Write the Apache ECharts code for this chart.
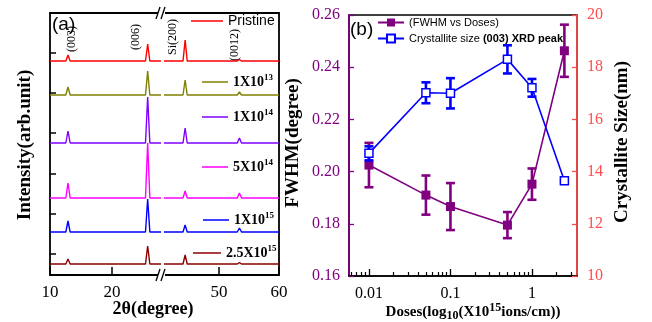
<!DOCTYPE html>
<html>
<head>
<meta charset="utf-8">
<script src="https://cdn.jsdelivr.net/npm/echarts@6/dist/echarts.min.js"></script>
<style>
html, body { margin: 0; padding: 0; background: #fff; }
#chart { width: 652px; height: 322px; }
</style>
</head>
<body>
<div id="chart"></div>
<script>
// ---- panel (a): XRD patterns, stacked ----
var xrdNames = ['Pristine', '1X10^13', '1X10^14', '5X10^14', '1X10^15', '2.5X10^15'];
var xrdColors = ['#ff0000', '#808000', '#8000ff', '#ff00ff', '#0000ff', '#8b0000'];
var xrdBaselines = [214, 180, 132, 77, 43, 11];
var peakPos = [12.9, 25.75, 44.35, 53.4];
var peakLabels = ['(003)', '(006)', 'Si(200)', '(0012)'];
// heights of (003), (006), Si(200), (0012) for each pattern
var peakHeights = [
	[6, 17, 21, 1.5],
	[8, 24, 15, 3],
	[12, 46, 15, 5],
	[15, 55, 7, 5],
	[11, 33, 7, 4],
	[5, 18, 9, 1.5]
];
var xrdTickVals = [21, 61, 101, 142, 182, 222];
var twoThetaLeft = [10, 27.9];
var twoThetaRight = [40.83, 60];
var twoThetaLabelsLeft = [10, 20];
var twoThetaLabelsRight = [50, 60];

// ---- panel (b): FWHM and crystallite size vs dose ----
var doses = [0.01, 0.05, 0.1, 0.5, 1, 2.5];
var fwhm = [0.2025, 0.191, 0.1866, 0.1795, 0.1952, 0.2463];
var fwhmErr = [0.0085, 0.0075, 0.009, 0.005, 0.006, 0.01];
var crystSize = [14.70, 17.02, 17.00, 18.30, 17.21, 13.65];
var crystErr = [0.27, 0.40, 0.58, 0.54, 0.34, 0.05];
var doseMajor = [0.01, 0.1, 1];
var doseMinor = [0.006, 0.007, 0.008, 0.009, 0.02, 0.03, 0.04, 0.05, 0.06, 0.07, 0.08, 0.09,
	0.2, 0.3, 0.4, 0.5, 0.6, 0.7, 0.8, 0.9, 2, 3];

var SERIF = 'Liberation Serif';
var SANS = 'Liberation Sans';
var PURPLE = '#800080';
var LRED = '#ff4d4d';

function buildTrace(base, heights, range) {
	var pts = [[range[0], base]];
	for (var k = 0; k < peakPos.length; k++) {
		var p = peakPos[k];
		if (p > range[0] && p < range[1]) {
			pts.push([p - 0.35, base]);
			pts.push([p, base + heights[k]]);
			pts.push([p + 0.35, base]);
		}
	}
	pts.push([range[1], base]);
	return pts;
}

var series = [];
for (var i = 0; i < xrdNames.length; i++) {
	series.push({
		name: xrdNames[i], type: 'line', xAxisIndex: 0, yAxisIndex: 0,
		symbol: 'none', silent: true, animation: false,
		lineStyle: {color: xrdColors[i], width: 1.4}, itemStyle: {color: xrdColors[i]},
		data: buildTrace(xrdBaselines[i], peakHeights[i], twoThetaLeft)
	});
	series.push({
		name: xrdNames[i], type: 'line', xAxisIndex: 2, yAxisIndex: 1,
		symbol: 'none', silent: true, animation: false,
		lineStyle: {color: xrdColors[i], width: 1.4}, itemStyle: {color: xrdColors[i]},
		data: buildTrace(xrdBaselines[i], peakHeights[i], twoThetaRight)
	});
}

function errRender(color) {
	return function (params, api) {
		var x = api.value(0);
		var lo = api.coord([x, api.value(1)]);
		var hi = api.coord([x, api.value(2)]);
		var st = {stroke: color, lineWidth: 2.6};
		var w = 4.5;
		return {
			type: 'group',
			children: [
				{type: 'line', shape: {x1: lo[0], y1: lo[1], x2: hi[0], y2: hi[1]}, style: st},
				{type: 'line', shape: {x1: lo[0] - w, y1: lo[1], x2: lo[0] + w, y2: lo[1]}, style: st},
				{type: 'line', shape: {x1: hi[0] - w, y1: hi[1], x2: hi[0] + w, y2: hi[1]}, style: st}
			]
		};
	};
}

var fwhmName = '(FWHM vs Doses)';
var sizeName = 'Crystallite size (003) XRD peak';

series.push({
	name: fwhmName, type: 'line', xAxisIndex: 4, yAxisIndex: 2, animation: false,
	symbol: 'rect', symbolSize: 9, z: 3,
	lineStyle: {color: PURPLE, width: 1.6}, itemStyle: {color: PURPLE},
	data: doses.map(function (d, k) { return [d, fwhm[k]]; })
});
series.push({
	type: 'custom', xAxisIndex: 4, yAxisIndex: 2, animation: false, z: 3, silent: true,
	renderItem: errRender(PURPLE),
	data: doses.map(function (d, k) { return [d, fwhm[k] - fwhmErr[k], fwhm[k] + fwhmErr[k]]; })
});
series.push({
	name: sizeName, type: 'line', xAxisIndex: 4, yAxisIndex: 3, animation: false,
	symbol: 'rect', symbolSize: 8, z: 4,
	lineStyle: {color: '#0000ff', width: 1.6},
	itemStyle: {color: '#ffffff', borderColor: '#0000ff', borderWidth: 1.5},
	data: doses.map(function (d, k) { return [d, crystSize[k]]; })
});
series.push({
	type: 'custom', xAxisIndex: 4, yAxisIndex: 3, animation: false, z: 4, silent: true,
	renderItem: errRender('#0000ff'),
	data: doses.map(function (d, k) { return [d, crystSize[k] - crystErr[k], crystSize[k] + crystErr[k]]; })
});

// legends inside panel (a), one per pattern
var legPos = [[191, 32], [202, 26], [202, 26], [202, 26], [203, 26], [193, 28]];
var legY = [21, 82, 117, 167, 220, 253];
var legends = [];
for (var j = 0; j < xrdNames.length; j++) {
	legends.push({
		data: [{name: xrdNames[j], icon: 'rect'}], left: legPos[j][0], top: legY[j] - 9, padding: 0,
		itemWidth: legPos[j][1], itemHeight: 1.5, selectedMode: false,
		formatter: function (name) {
			if (name.indexOf('^') < 0) return name;
			var parts = name.split('^');
			return '{b|' + parts[0] + '}{s|' + parts[1] + '}';
		},
		textStyle: {
			fontFamily: SANS, fontSize: 14, color: '#000', lineHeight: 18,
			rich: {
				b: {fontFamily: SERIF, fontWeight: 'bold', fontSize: 14, lineHeight: 18, color: '#000'},
				s: {fontFamily: SERIF, fontWeight: 'bold', fontSize: 9, lineHeight: 10, verticalAlign: 'top', color: '#000'}
			}
		}
	});
}
legends.push({
	data: [fwhmName, sizeName], orient: 'vertical', left: 377, top: 17, padding: 0,
	itemWidth: 26, itemHeight: 10, itemGap: 5, selectedMode: false,
	formatter: function (name) {
		if (name === sizeName) return 'Crystallite size {b|(003) XRD peak}';
		return name;
	},
	textStyle: {
		fontFamily: SANS, fontSize: 11, color: '#000',
		rich: {b: {fontFamily: SANS, fontSize: 11, fontWeight: 'bold', color: '#000'}}
	}
});

var blackLine = {show: true, lineStyle: {color: '#000', width: 1.8}};
var noTick = {show: false};
var noLabel = {show: false};

var graphics = [];
graphics.push({type: 'text', x: 52, y: 25, style: {text: '(a)', font: '19px ' + SANS, fill: '#000', verticalAlign: 'middle'}});
graphics.push({type: 'text', x: 350, y: 30, style: {text: '(b)', font: '19px ' + SANS, fill: '#000', verticalAlign: 'middle'}});
var peakLabelXY = [[72, 39], [136, 37], [173, 37], [235, 45]];
for (var m = 0; m < peakLabels.length; m++) {
	graphics.push({
		type: 'text', x: peakLabelXY[m][0], y: peakLabelXY[m][1], rotation: Math.PI / 2,
		style: {text: peakLabels[m], font: '12px ' + SERIF, fill: '#000', align: 'center', verticalAlign: 'middle'}
	});
}
// break marks on the 2theta axis
['top', 'bottom'].forEach(function (pos) {
	var yc = pos === 'top' ? 13 : 275;
	graphics.push({type: 'rect', shape: {x: 158, y: yc - 3, width: 7, height: 6}, style: {fill: '#fff'}, z: 50});
	graphics.push({type: 'line', shape: {x1: 156, y1: yc + 6, x2: 160, y2: yc - 6}, style: {stroke: '#000', lineWidth: 1.3}, z: 51});
	graphics.push({type: 'line', shape: {x1: 161, y1: yc + 6, x2: 165, y2: yc - 6}, style: {stroke: '#000', lineWidth: 1.3}, z: 51});
});
graphics.push({type: 'text', x: 153, y: 309, style: {text: '2\u03b8(degree)', font: 'bold 18px ' + SERIF, fill: '#000', align: 'center', verticalAlign: 'middle'}});
graphics.push({type: 'text', x: 25, y: 145, rotation: Math.PI / 2, style: {text: 'Intensity(arb.unit)', font: 'bold 19px ' + SERIF, fill: '#000', align: 'center', verticalAlign: 'middle'}});
graphics.push({type: 'text', x: 293, y: 143, rotation: Math.PI / 2, style: {text: 'FWHM(degree)', font: 'bold 19px ' + SERIF, fill: '#000', align: 'center', verticalAlign: 'middle'}});
graphics.push({type: 'text', x: 622, y: 142, rotation: Math.PI / 2, style: {text: 'Crystallite Size(nm)', font: 'bold 19px ' + SERIF, fill: '#000', align: 'center', verticalAlign: 'middle'}});
graphics.push({
	type: 'text', x: 473, y: 312,
	style: {
		text: '{b|Doses(log}{sub|10}{b|(X10}{sup|15}{b|ions/cm))}', align: 'center', verticalAlign: 'middle',
		rich: {
			b: {font: 'bold 15px ' + SERIF, fill: '#000', lineHeight: 20},
			sub: {font: 'bold 12px ' + SERIF, fill: '#000', lineHeight: 12, verticalAlign: 'bottom'},
			sup: {font: 'bold 12px ' + SERIF, fill: '#000', lineHeight: 12, verticalAlign: 'top'}
		}
	}
});

function tickLabelA(vals) {
	return {customValues: vals, fontFamily: SERIF, fontSize: 17, color: '#000', margin: 9};
}

var option = {
	backgroundColor: '#fff',
	animation: false,
	grid: [
		{left: 50, width: 111, top: 13, height: 262},
		{left: 164, width: 115, top: 13, height: 262},
		{left: 349, width: 228, top: 15, height: 261, show: true, borderColor: '#000', borderWidth: 1.7}
	],
	legend: legends,
	xAxis: [
		{gridIndex: 0, type: 'value', position: 'bottom', min: twoThetaLeft[0], max: twoThetaLeft[1],
			axisLine: blackLine,
			axisTick: {inside: true, length: 8, customValues: twoThetaLabelsLeft, lineStyle: {color: '#000', width: 1.5}},
			axisLabel: tickLabelA(twoThetaLabelsLeft), splitLine: {show: false}},
		{gridIndex: 0, type: 'value', position: 'top', min: twoThetaLeft[0], max: twoThetaLeft[1],
			axisLine: blackLine, axisTick: noTick, axisLabel: noLabel, splitLine: {show: false}},
		{gridIndex: 1, type: 'value', position: 'bottom', min: twoThetaRight[0], max: twoThetaRight[1],
			axisLine: blackLine,
			axisTick: {inside: true, length: 8, customValues: twoThetaLabelsRight, lineStyle: {color: '#000', width: 1.5}},
			axisLabel: tickLabelA(twoThetaLabelsRight), splitLine: {show: false}},
		{gridIndex: 1, type: 'value', position: 'top', min: twoThetaRight[0], max: twoThetaRight[1],
			axisLine: blackLine, axisTick: noTick, axisLabel: noLabel, splitLine: {show: false}},
		{gridIndex: 2, type: 'log', logBase: 10, position: 'bottom', min: 0.00569, max: 3.57,
			axisLine: {show: true, lineStyle: {color: '#000', width: 1.7}},
			axisTick: {inside: true, length: 7, customValues: doseMajor, lineStyle: {color: '#000', width: 1.3}},
			axisLabel: {customValues: doseMajor, fontFamily: SERIF, fontSize: 16, color: '#000', margin: 10,
				formatter: function (v) { return String(+v.toPrecision(3)); }},
			splitLine: {show: false}, minorTick: {show: false}},
		{gridIndex: 2, type: 'log', logBase: 10, position: 'bottom', offset: 0, min: 0.00569, max: 3.57,
			axisLine: {show: false},
			axisTick: {show: true, inside: true, length: 4, customValues: doseMinor, lineStyle: {color: '#000', width: 1.2}},
			axisLabel: noLabel, splitLine: {show: false}}
	],
	yAxis: [
		{gridIndex: 0, type: 'value', min: 0, max: 262,
			axisLine: blackLine,
			axisTick: {inside: true, length: 6, customValues: xrdTickVals, lineStyle: {color: '#000', width: 1.5}},
			axisLabel: noLabel, splitLine: {show: false}},
		{gridIndex: 1, type: 'value', position: 'right', min: 0, max: 262,
			axisLine: blackLine, axisTick: noTick, axisLabel: noLabel, splitLine: {show: false}},
		{gridIndex: 2, type: 'value', min: 0.16, max: 0.26, interval: 0.02,
			axisLine: {show: true, lineStyle: {color: PURPLE, width: 1.7}},
			axisTick: {inside: true, length: 5, lineStyle: {color: PURPLE, width: 1.3}},
			axisLabel: {fontFamily: SERIF, fontSize: 16, color: PURPLE, margin: 9,
				formatter: function (v) { return v.toFixed(2); }},
			splitLine: {show: false}},
		{gridIndex: 2, type: 'value', position: 'right', min: 10, max: 20, interval: 2,
			axisLine: {show: true, lineStyle: {color: LRED, width: 1.7}},
			axisTick: {inside: true, length: 5, lineStyle: {color: LRED, width: 1.3}},
			axisLabel: {fontFamily: SERIF, fontSize: 16, color: LRED, margin: 10},
			splitLine: {show: false}}
	],
	graphic: graphics,
	series: series
};

var chart = echarts.init(document.getElementById('chart'), null, {renderer: 'canvas'});
chart.setOption(option);
</script>
</body>
</html>
